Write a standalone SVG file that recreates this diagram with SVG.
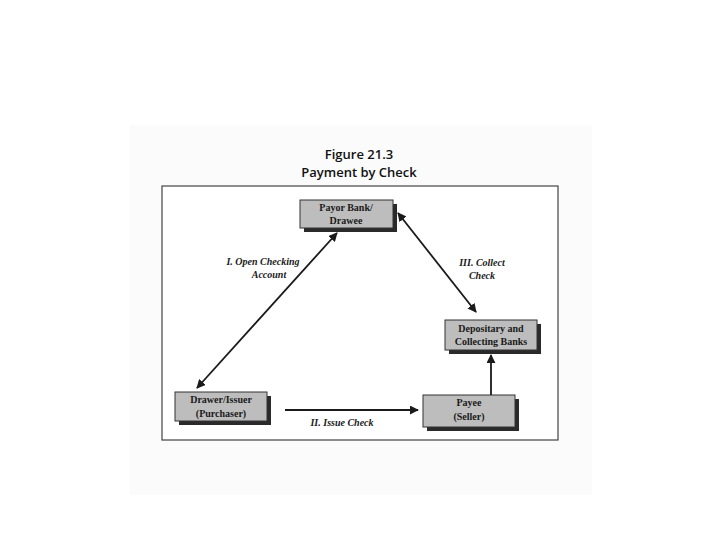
<svg xmlns="http://www.w3.org/2000/svg" width="720" height="540" viewBox="0 0 720 540">
<defs>
<style>
.title{font-family:"Open Sans","Liberation Sans",sans-serif;font-size:13px;font-weight:600;fill:#111;text-anchor:middle}
.box{fill:#bdbdbd;stroke:#333;stroke-width:1}
.shadow{fill:#2a2a2a}
.bt{font-family:"Liberation Serif","Times New Roman",serif;font-size:10px;font-weight:bold;fill:#1a1a1a;text-anchor:middle}
.lbl{font-family:"Liberation Serif","Times New Roman",serif;font-size:10px;font-weight:bold;font-style:italic;fill:#1a1a1a;text-anchor:middle}
.conn{stroke:#1a1a1a;stroke-width:1.8;fill:none}
</style>
<marker id="ah" viewBox="0 0 10 10" refX="9" refY="5" markerWidth="5" markerHeight="5" orient="auto-start-reverse">
<path d="M0,0 L10,5 L0,10 z" fill="#1a1a1a"/>
</marker>
</defs>
<rect x="0" y="0" width="720" height="540" fill="#ffffff"/>
<rect x="130" y="125" width="462" height="370" fill="#fbfbfb"/>
<text class="title" x="359" y="159">Figure 21.3</text>
<text class="title" x="359" y="177">Payment by Check</text>
<rect x="162" y="186" width="396" height="254" fill="#ffffff" stroke="#444" stroke-width="1.2"/>
<g id="payor">
<rect class="shadow" x="304" y="204" width="93" height="28"/>
<rect class="box" x="300" y="200" width="93" height="28"/>
<text class="bt" x="346" y="211">Payor Bank/</text>
<text class="bt" x="346" y="224">Drawee</text>
</g>
<g id="depositary">
<rect class="shadow" x="449" y="324" width="92" height="30"/>
<rect class="box" x="445" y="320" width="92" height="30"/>
<text class="bt" x="491" y="332">Depositary and</text>
<text class="bt" x="491" y="345">Collecting Banks</text>
</g>
<g id="drawer">
<rect class="shadow" x="179" y="396" width="92" height="29"/>
<rect class="box" x="175" y="392" width="92" height="29"/>
<text class="bt" x="221" y="403">Drawer/Issuer</text>
<text class="bt" x="221" y="417">(Purchaser)</text>
</g>
<g id="payee">
<rect class="shadow" x="427" y="399" width="92" height="32"/>
<rect class="box" x="423" y="395" width="92" height="32"/>
<text class="bt" x="469" y="406">Payee</text>
<text class="bt" x="469" y="420">(Seller)</text>
</g>
<g id="connectors">
<line class="conn" x1="197" y1="388" x2="337" y2="233" marker-start="url(#ah)" marker-end="url(#ah)"/>
<line class="conn" x1="398" y1="213" x2="476" y2="312" marker-start="url(#ah)" marker-end="url(#ah)"/>
<line class="conn" x1="285" y1="410" x2="418" y2="410" marker-end="url(#ah)"/>
<line class="conn" x1="491" y1="395" x2="491" y2="355" marker-end="url(#ah)"/>
</g>
<text class="lbl" x="263" y="265">I. Open Checking</text>
<text class="lbl" x="269" y="278">Account</text>
<text class="lbl" x="482" y="266">III. Collect</text>
<text class="lbl" x="482" y="279">Check</text>
<text class="lbl" x="342" y="426">II. Issue Check</text>
</svg>
